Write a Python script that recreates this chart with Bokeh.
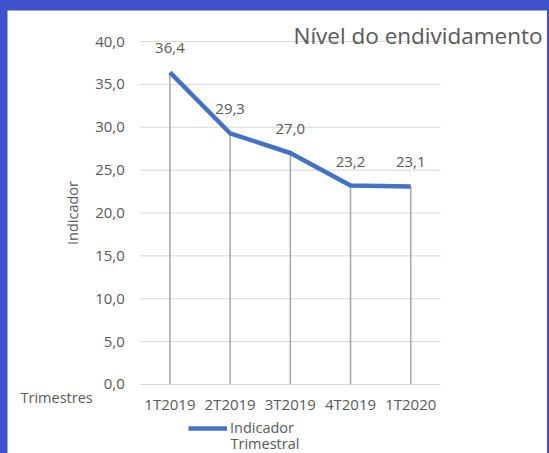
from bokeh.plotting import figure
from bokeh.models import (ColumnDataSource, Range1d, FixedTicker, LabelSet, Label,
                          Legend, LegendItem, GlobalInlineStyleSheet)
from bokeh.core.properties import value
from bokeh.embed import file_html
from bokeh.resources import INLINE

# ---- data ----
trimestres = ["1T2019", "2T2019", "3T2019", "4T2019", "1T2020"]
indicador = [36.4, 29.3, 27.0, 23.2, 23.1]
y_ticks = [0, 5, 10, 15, 20, 25, 30, 35, 40]
y_tick_labels = ["0,0", "5,0", "10,0", "15,0", "20,0", "25,0", "30,0", "35,0", "40,0"]
data_labels = [f"{v:.1f}".replace(".", ",") for v in indicador]

FONT = "Open Sans"
GRAY = "#595959"

idx = list(range(len(trimestres)))
src = ColumnDataSource(dict(i=idx, val=indicador, label=data_labels))
x_lo, x_hi = -0.5, len(trimestres) - 0.5          # category band edges
y_lo, y_hi = y_ticks[0], y_ticks[-1]

# frame spans the whole figure so that outside texts are not clipped;
# ranges are chosen so the plotting area sits where the reference has it
p = figure(width=540, height=443, title=None,
           x_range=Range1d(-2.698, 6.272), y_range=Range1d(-8.05, 43.62),
           output_backend="svg", toolbar_location=None,
           min_border=0)
p.outline_line_color = None
p.background_fill_color = "white"
p.border_fill_color = "white"

p.stylesheets = [GlobalInlineStyleSheet(css=
    "html,body{overflow:hidden;background:#3E50CC;} body{margin:10px 0 0 7px;}")]

# x axis (categories)
xa = p.xaxis[0]
xa.fixed_location = y_lo
xa.bounds = (x_lo, x_hi)
xa.ticker = FixedTicker(ticks=idx)
xa.major_label_overrides = {i: t for i, t in zip(idx, trimestres)}
xa.axis_line_color = None
xa.major_tick_line_color = None
xa.minor_tick_line_color = None
xa.major_label_text_font = FONT
xa.major_label_text_font_size = "15px"
xa.major_label_text_color = GRAY
xa.major_label_standoff = 4

# y axis
ya = p.yaxis[0]
ya.fixed_location = x_lo
ya.bounds = (y_lo, y_hi)
ya.ticker = FixedTicker(ticks=y_ticks)
ya.major_label_overrides = {t: l for t, l in zip(y_ticks, y_tick_labels)}
ya.axis_line_color = None
ya.major_tick_line_color = None
ya.minor_tick_line_color = None
ya.major_label_text_font = FONT
ya.major_label_text_font_size = "15px"
ya.major_label_text_color = GRAY
ya.major_label_standoff = 9
ya.axis_label = "Indicador"
ya.axis_label_text_font = FONT
ya.axis_label_text_font_size = "14.5px"
ya.axis_label_text_font_style = "normal"
ya.axis_label_text_color = GRAY
ya.axis_label_standoff = 10

p.xgrid.grid_line_color = None
p.ygrid.grid_line_color = None

# horizontal gridlines at the tick values, across the category band
p.segment(x0=x_lo, x1=x_hi, y0=y_ticks, y1=y_ticks,
          line_color="#D9D9D9", line_width=1)

# drop lines
p.segment(x0="i", y0=y_lo, x1="i", y1="val", source=src,
          line_color="#A6A6A6", line_width=1.5)

# main line
r = p.line("i", "val", source=src, line_color="#4472C4", line_width=4.5,
           line_join="round", line_cap="butt")

# data labels
p.add_layout(LabelSet(x="i", y="val", text="label", source=src, y_offset=24,
                      text_align="center", text_baseline="middle",
                      text_font=value(FONT), text_font_size="15px",
                      text_color=GRAY))

# title
p.add_layout(Label(x=286, y=418, x_units="screen", y_units="screen",
                   text="Nível do endividamento", text_font=FONT,
                   text_font_size="22.5px", text_color=GRAY,
                   text_align="left", text_baseline="alphabetic"))

# x axis title
p.add_layout(Label(x=13, y=56, x_units="screen", y_units="screen",
                   text="Trimestres", text_font=FONT, text_font_size="14.5px",
                   text_color=GRAY, text_align="left", text_baseline="middle"))

# legend
legend = Legend(items=[LegendItem(label="Indicador", renderers=[r])],
                location=(181, 16), glyph_width=39, glyph_height=18,
                label_height=18, label_standoff=3, padding=0, margin=0,
                spacing=0, border_line_color=None, background_fill_alpha=0,
                label_text_font=FONT, label_text_font_size="14.5px",
                label_text_color=GRAY)
p.add_layout(legend, "center")

p.add_layout(Label(x=223, y=10, x_units="screen", y_units="screen",
                   text="Trimestral", text_font=FONT, text_font_size="14.5px",
                   text_color=GRAY, text_align="left", text_baseline="middle"))

open("out.html", "w").write(file_html(p, INLINE))
